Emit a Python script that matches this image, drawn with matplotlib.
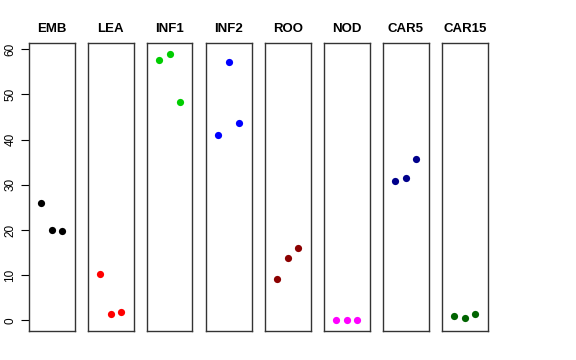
import matplotlib
matplotlib.use("Agg")
import matplotlib.pyplot as plt

plt.rcParams['font.family'] = ['Liberation Sans', 'DejaVu Sans']

groups = ["EMB", "LEA", "INF1", "INF2", "ROO", "NOD", "CAR5", "CAR15"]
colors = ["#000000", "#FF0000", "#00CD00", "#0000FF", "#8B0000", "#FF00FF", "#00008B", "#006400"]
values = {
    "EMB":   [26.0, 20.0, 19.8],
    "LEA":   [10.2, 1.3, 1.8],
    "INF1":  [57.7, 59.0, 48.3],
    "INF2":  [40.9, 57.1, 43.6],
    "ROO":   [9.1, 13.9, 15.9],
    "NOD":   [0.05, 0.05, 0.05],
    "CAR5":  [30.8, 31.5, 35.7],
    "CAR15": [0.95, 0.6, 1.3],
}
xpos = [1, 2, 3]
yticks = [0, 10, 20, 30, 40, 50, 60]

W, H = 576, 360
fig = plt.figure(figsize=(W / 100, H / 100), dpi=100)

allv = [v for g in groups for v in values[g]]
ymin, ymax = 0.0, max(allv)
ext = 0.04 * (ymax - ymin)
ylim = (ymin - ext, ymax + ext)

left0, pw, step = 29, 45.5, 59
top, bottom = 43, 331
for i, g in enumerate(groups):
    l = left0 + i * step
    ax = fig.add_axes([l / W, 1 - bottom / H, pw / W, (bottom - top) / H])
    ax.plot(xpos, values[g], 'o', color=colors[i], markersize=5.2, markeredgewidth=0)
    ax.set_xlim(-0.16, 4.16)
    ax.set_ylim(*ylim)
    ax.set_xticks([])
    for s in ax.spines.values():
        s.set_linewidth(1.0)
        s.set_color('#333333')
    ax.set_title(g, fontsize=9.5, fontweight='bold', pad=8)
    if i == 0:
        ax.set_yticks(yticks)
        ax.tick_params(axis='y', length=6, width=0.8, labelsize=8.5, pad=3)
        for lab in ax.get_yticklabels():
            lab.set_rotation(90)
            lab.set_va('center')
    else:
        ax.set_yticks([])

fig.savefig("out.png", dpi=100)
